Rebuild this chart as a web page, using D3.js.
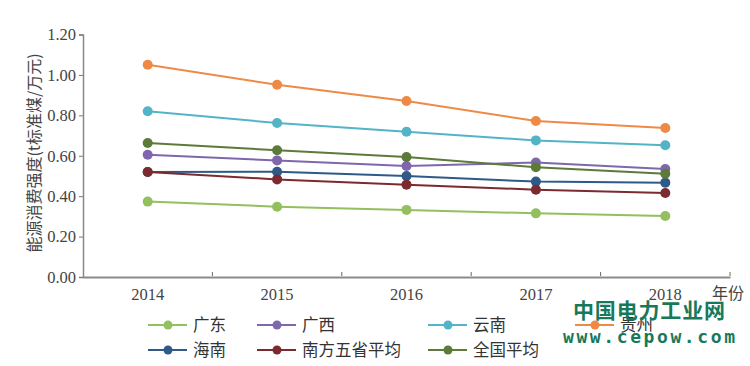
<!DOCTYPE html>
<html><head><meta charset="utf-8">
<script src="https://cdn.jsdelivr.net/npm/d3@7"></script>
<style>body{margin:0;background:#fff;}svg{display:block;}</style>
</head><body><svg id="c" width="750" height="366"></svg>
<script>
const years = ["2014","2015","2016","2017","2018"];
const yTicks = [0,0.2,0.4,0.6,0.8,1.0,1.2];
const guangdong = [0.373,0.348,0.332,0.315,0.302];
const guangxi = [0.605,0.577,0.549,0.566,0.534];
const yunnan = [0.820,0.762,0.719,0.676,0.652];
const guizhou = [1.050,0.951,0.871,0.772,0.737];
const hainan = [0.520,0.521,0.500,0.472,0.467];
const southAvg = [0.520,0.483,0.457,0.432,0.416];
const nationalAvg = [0.663,0.627,0.594,0.543,0.511];
const seriesNames = ["广东","广西","云南","贵州","海南","南方五省平均","全国平均"];
const seriesValues = [guangdong,guangxi,yunnan,guizhou,hainan,southAvg,nationalAvg];
const colors = ["#93bf5f","#7e67ad","#52b4c6","#ee8a45","#2d5a87","#7b2a30","#5c7a38"];

const svg = d3.select("#c");
const x = d3.scaleBand().domain(years).range([83,730]);
const y = d3.scaleLinear().domain([0,1.2]).range([277,34.5]);
const serif = "'Liberation Serif','DejaVu Serif',serif";
const cjk = "'Noto Sans CJK SC',sans-serif";

// Y axis
const ya = svg.append("g").attr("transform","translate(83,0)")
  .call(d3.axisLeft(y).tickValues(yTicks).tickFormat(d3.format(".2f")).tickSize(4).tickPadding(3));
ya.select(".domain").attr("stroke","#888").attr("stroke-width",1.5);
ya.selectAll(".tick line").attr("stroke","#777");
ya.selectAll("text").attr("fill","#444").style("font-family",serif).style("font-size","16.5px");

// X axis
const xa = svg.append("g").attr("transform","translate(0,277)")
  .call(d3.axisBottom(x).tickSize(0).tickPadding(11));
xa.select(".domain").attr("stroke","#8a8a8a").attr("stroke-width",2);
xa.selectAll("text").attr("fill","#444").style("font-family",serif).style("font-size","16.5px");
// boundary ticks pointing up
xa.selectAll(".bt").data(years).enter().append("line").attr("class","bt")
  .attr("x1",d=>x(d)+x.bandwidth()).attr("x2",d=>x(d)+x.bandwidth())
  .attr("y1",-1).attr("y2",-5).attr("stroke","#666").attr("stroke-width",1);

svg.append("text").attr("x",728).attr("y",299).attr("text-anchor","middle")
  .attr("fill","#444").style("font-family",cjk).style("font-size","16px").text("年份");

// Y title
svg.append("text").attr("transform","translate(40,153) rotate(-90)").attr("text-anchor","middle")
  .attr("fill","#444").style("font-family",cjk).style("font-size","16px").text("能源消费强度(t标准煤/万元)");

// series
const line = d3.line().x((d,i)=>x(years[i])+x.bandwidth()/2).y(d=>y(d));
seriesValues.forEach((vals,k)=>{
  const g = svg.append("g");
  g.append("path").datum(vals).attr("d",line).attr("fill","none").attr("stroke",colors[k]).attr("stroke-width",2);
  g.selectAll("circle").data(vals).enter().append("circle")
    .attr("cx",(d,i)=>x(years[i])+x.bandwidth()/2).attr("cy",d=>y(d)).attr("r",5).attr("fill",colors[k]);
});

// legend
const legPos = [[148,325],[257,325],[428,325],[575,325],[148,350],[257,350],[428,350]];
seriesNames.forEach((n,k)=>{
  const [lx,ly] = legPos[k];
  const g = svg.append("g").attr("transform",`translate(${lx},${ly})`);
  g.append("line").attr("x1",0).attr("x2",39).attr("y1",0).attr("y2",0).attr("stroke",colors[k]).attr("stroke-width",2);
  g.append("circle").attr("cx",20).attr("cy",0).attr("r",4.5).attr("fill",colors[k]);
  g.append("text").attr("x",45).attr("y",0).attr("dy","0.35em").attr("fill","#333")
    .style("font-family",cjk).style("font-size","16.5px").text(n);
});

// watermark
svg.append("text").attr("x",649).attr("y",318).attr("text-anchor","middle").attr("fill","#17795a")
  .style("font-family",cjk).style("font-weight","bold").style("font-size","21px").attr("textLength",152).text("中国电力工业网");
svg.append("text").attr("x",649).attr("y",343).attr("text-anchor","middle").attr("fill","#17795a")
  .style("font-family","'DejaVu Sans Mono',monospace").style("font-weight","bold").style("font-size","18px").attr("textLength",172).text("www.cepow.com");
</script></body></html>
